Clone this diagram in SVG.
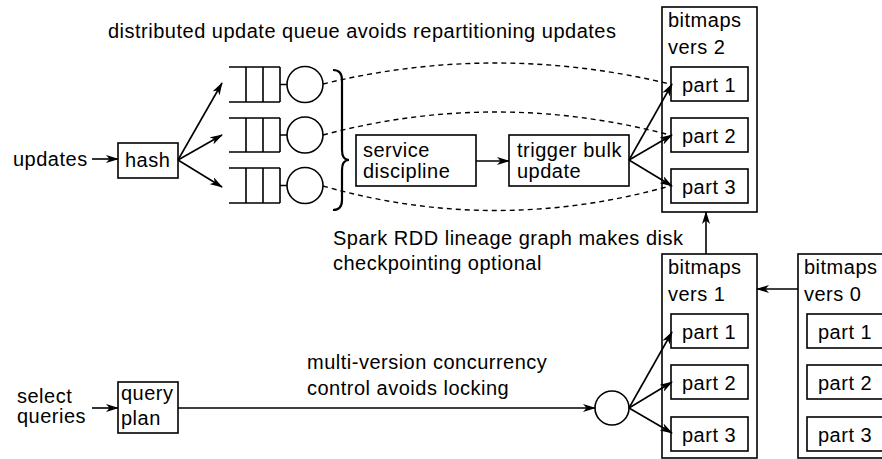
<svg xmlns="http://www.w3.org/2000/svg" width="882" height="459" viewBox="0 0 882 459">
<style>
text{font-family:"Liberation Sans",Arial,sans-serif;font-size:20px;letter-spacing:0.5px;fill:#000}
.b{fill:#fff;stroke:#000;stroke-width:1.6}
.l{fill:none;stroke:#000;stroke-width:1.6}
.d{fill:none;stroke:#000;stroke-width:1.4;stroke-dasharray:5 4}
</style>
<defs>
<marker id="ah" markerWidth="13" markerHeight="8" refX="12" refY="4" orient="auto" markerUnits="userSpaceOnUse">
<path d="M0,0 L13,4 L0,8 L3.5,4 z" fill="#000"/>
</marker>
</defs>
<rect width="882" height="459" fill="#fff"/>
<text x="108" y="38">distributed update queue avoids repartitioning updates</text>
<text x="333" y="245">Spark RDD lineage graph makes disk</text>
<text x="333" y="270">checkpointing optional</text>
<text x="307" y="369">multi-version concurrency</text>
<text x="307" y="395">control avoids locking</text>
<g id="updates"><text x="13" y="166">updates</text></g>
<g id="select"><text x="17" y="403">select</text><text x="17" y="423">queries</text></g>
<g id="hash"><rect class="b" x="118" y="143" width="60" height="35"/><text x="125" y="167">hash</text></g>
<g id="queue1"><path class="l" d="M229,67 H280 M229,102 H280 M246,67 V102 M263,67 V102 M280,67 V102 M280,84.5 H287"/><circle class="l" cx="305" cy="84.5" r="18"/></g>
<g id="queue2"><path class="l" d="M229,118 H280 M229,152 H280 M246,118 V152 M263,118 V152 M280,118 V152 M280,135 H287"/><circle class="l" cx="305" cy="135" r="18"/></g>
<g id="queue3"><path class="l" d="M229,168 H280 M229,203 H280 M246,168 V203 M263,168 V203 M280,168 V203 M280,185.5 H287"/><circle class="l" cx="305" cy="185.5" r="18"/></g>
<g id="brace"><path fill="none" stroke="#000" stroke-width="2.2" d="M333,70 Q342,70 342,80 L342,150 Q342,160 349,160 Q342,160 342,170 L342,200 Q342,210 333,210"/></g>
<g id="service"><rect class="b" x="356" y="135" width="120" height="51"/><text x="363" y="157">service</text><text x="363" y="178">discipline</text></g>
<g id="trigger"><rect class="b" x="509" y="135" width="120" height="51"/><text x="517" y="157">trigger bulk</text><text x="517" y="178">update</text></g>
<g id="v2"><rect class="b" x="662" y="7" width="95" height="205"/><text x="668" y="27">bitmaps</text><text x="668" y="54">vers 2</text>
<rect class="b" x="671" y="67" width="77" height="34"/><text x="682" y="92">part 1</text>
<rect class="b" x="671" y="118" width="77" height="34"/><text x="682" y="143">part 2</text>
<rect class="b" x="671" y="169" width="77" height="34"/><text x="682" y="194">part 3</text></g>
<g id="v1"><rect class="b" x="662" y="254" width="95" height="204"/><text x="668" y="274">bitmaps</text><text x="668" y="301">vers 1</text>
<rect class="b" x="671" y="314" width="77" height="34"/><text x="682" y="339">part 1</text>
<rect class="b" x="671" y="365" width="77" height="34"/><text x="682" y="390">part 2</text>
<rect class="b" x="671" y="417" width="77" height="34"/><text x="682" y="442">part 3</text></g>
<g id="v0"><rect class="b" x="798" y="254" width="95" height="204"/><text x="804" y="274">bitmaps</text><text x="804" y="301">vers 0</text>
<rect class="b" x="807" y="314" width="77" height="34"/><text x="818" y="339">part 1</text>
<rect class="b" x="807" y="365" width="77" height="34"/><text x="818" y="390">part 2</text>
<rect class="b" x="807" y="417" width="77" height="34"/><text x="818" y="442">part 3</text></g>
<g id="query"><rect class="b" x="118" y="382" width="60" height="51"/><text x="121" y="400">query</text><text x="121" y="425">plan</text></g>
<g id="mvcc"><circle class="l" cx="612" cy="408" r="17"/></g>
<g id="connectors">
<path class="l" d="M92,159 L118,159" marker-end="url(#ah)"/>
<path class="l" d="M178,160 L222,83" marker-end="url(#ah)"/>
<path class="l" d="M178,160 L222,135" marker-end="url(#ah)"/>
<path class="l" d="M178,160 L222,187" marker-end="url(#ah)"/>
<path class="d" d="M323,84 Q495,42 670,84"/>
<path class="d" d="M323,135 Q495,89 670,135"/>
<path class="d" d="M323,186 Q495,235 670,186"/>
<path class="l" d="M476,161 L509,161" marker-end="url(#ah)"/>
<path class="l" d="M629,160 L672,84" marker-end="url(#ah)"/>
<path class="l" d="M629,160 L672,135" marker-end="url(#ah)"/>
<path class="l" d="M629,160 L672,186" marker-end="url(#ah)"/>
<path class="l" d="M706,254 L706,212" marker-end="url(#ah)"/>
<path class="l" d="M798,289 L757,289" marker-end="url(#ah)"/>
<path class="l" d="M92,408 L118,408" marker-end="url(#ah)"/>
<path class="l" d="M178,408 L595,408" marker-end="url(#ah)"/>
<path class="l" d="M629,408 L672,332" marker-end="url(#ah)"/>
<path class="l" d="M629,408 L672,382" marker-end="url(#ah)"/>
<path class="l" d="M629,408 L672,433" marker-end="url(#ah)"/>
</g>
</svg>
